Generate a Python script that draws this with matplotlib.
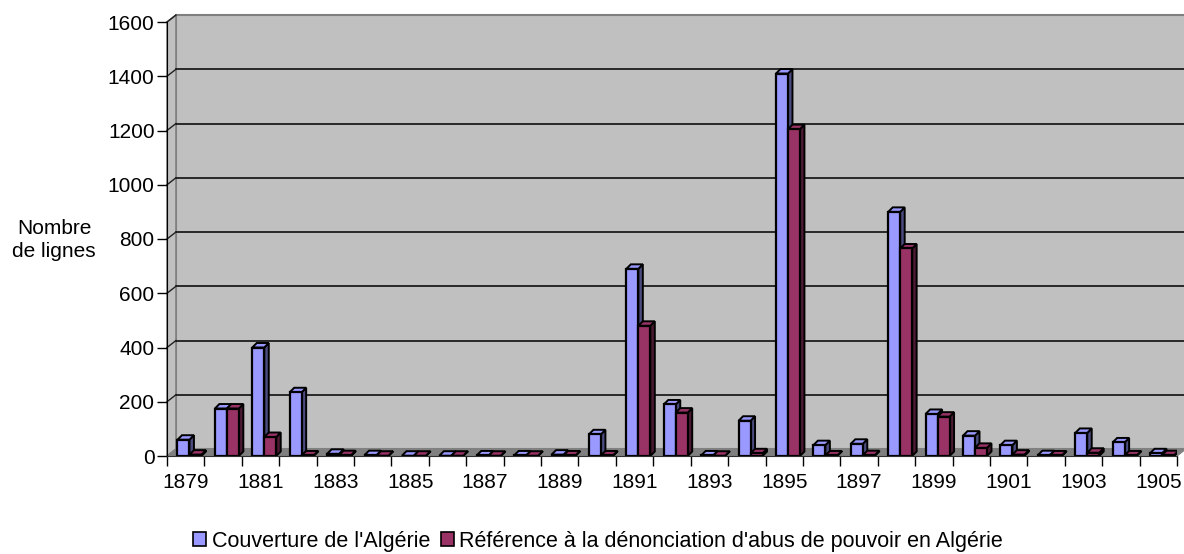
import matplotlib
matplotlib.use("Agg")
import matplotlib.pyplot as plt
from matplotlib.patches import Polygon, Rectangle, Patch

plt.rcParams['font.family'] = ['Liberation Sans', 'DejaVu Sans']

years = list(range(1879, 1906))
couverture = [60, 175, 400, 235, 8, 3, 1, 1, 2, 2, 5, 80, 690, 190, 2, 130,
              1410, 40, 45, 900, 155, 75, 40, 3, 85, 50, 10]
abus = [5, 175, 70, 2, 3, 1, 1, 1, 1, 1, 2, 2, 480, 160, 1, 10,
        1205, 2, 3, 765, 145, 30, 5, 2, 12, 2, 3]
series_names = ["Couverture de l'Algérie",
                "Référence à la dénonciation d'abus de pouvoir en Algérie"]
yticks = [0, 200, 400, 600, 800, 1000, 1200, 1400, 1600]

FS = 15
W, H = 1184, 554
fig = plt.figure(figsize=(W / 100, H / 100), dpi=100)
x_left_px, x_right_px = 167, 1177
y_bot_px, y_top_px = 456, 22
ax = fig.add_axes([x_left_px / W, (H - y_bot_px) / H,
                   (x_right_px - x_left_px) / W, (y_bot_px - y_top_px) / H])
n = len(years)
ax.set_xlim(-0.5, n - 0.5)
ax.set_ylim(0, 1600)
ax.set_facecolor('none')

px_per_x = (x_right_px - x_left_px) / n
px_per_y = (y_bot_px - y_top_px) / 1600.0

# wall depth offset
wdx, wdy = 9 / px_per_x, 7 / px_per_y
x0, x1 = -0.5, n - 0.5
# back wall
ax.add_patch(Rectangle((x0 + wdx, wdy), x1 - x0 + 0.5, 1600, facecolor='#C0C0C0',
                       edgecolor='#808080', lw=1.5, zorder=0, clip_on=False))
# left wall
ax.add_patch(Polygon([(x0, 0), (x0 + wdx, wdy), (x0 + wdx, 1600 + wdy), (x0, 1600)],
                     closed=True, facecolor='#C0C0C0', edgecolor='#808080', lw=1.2,
                     zorder=0.5, clip_on=False))
# floor
ax.add_patch(Polygon([(x0, 0), (x1, 0), (x1 + wdx, wdy), (x0 + wdx, wdy)],
                     closed=True, facecolor='#808080', edgecolor='#808080', lw=0.8,
                     zorder=0.6, clip_on=False))
# gridlines on back wall + diagonal tick connectors
for v in yticks[1:-1]:
    ax.plot([x0 + wdx, x1 + wdx + 0.5], [v + wdy, v + wdy], color='black', lw=1.1,
            zorder=0.7, clip_on=False)
for v in yticks[1:]:
    ax.plot([x0, x0 + wdx], [v, v + wdy], color='#202020', lw=1.0, zorder=0.7,
            clip_on=False)

# bars
bw = 0.32
bdx, bdy = 4.5 / px_per_x, 4.5 / px_per_y
styles = [('#9999FF', '#4C4C80'), ('#993366', '#4C1A33')]
offsets = [0.28, 0.60]
z = 1.0
for i in range(n):
    for s, vals in enumerate([couverture, abus]):
        h = vals[i]
        xl = i - 0.5 + offsets[s]
        front, side = styles[s]
        ax.add_patch(Polygon([(xl + bw, 0), (xl + bw + bdx, bdy), (xl + bw + bdx, h + bdy),
                              (xl + bw, h)], closed=True, facecolor=side,
                             edgecolor='black', lw=1.4, zorder=z))
        ax.add_patch(Polygon([(xl, h), (xl + bw, h), (xl + bw + bdx, h + bdy),
                              (xl + bdx, h + bdy)], closed=True, facecolor=front,
                             edgecolor='black', lw=1.4, zorder=z + 0.01))
        ax.bar([xl], [h], width=bw, align='edge', color=front, edgecolor='black',
               lw=1.6, zorder=z + 0.02)
        z += 0.05

# axes styling
for sp in ['top', 'right']:
    ax.spines[sp].set_visible(False)
ax.spines['left'].set_color('black')
ax.spines['bottom'].set_color('#303030')
ax.spines['left'].set_zorder(50)
ax.spines['bottom'].set_zorder(50)
ax.set_yticks(yticks)
ax.set_yticklabels([str(v) for v in yticks], fontsize=FS)
ax.tick_params(axis='y', length=7, width=1, pad=2)
ax.set_xticks([i - 0.5 for i in range(n + 1)])
ax.set_xticklabels([])
ax.set_xticks(list(range(n)), minor=True)
ax.set_xticklabels([str(y) if (y - 1879) % 2 == 0 else '' for y in years], minor=True,
                   fontsize=FS)
ax.tick_params(axis='x', which='major', length=7, width=1)
ax.tick_params(axis='x', which='minor', length=0, pad=12)

fig.text(54 / W, 1 - 240 / H, "Nombre\nde lignes", ha='center', va='center',
         fontsize=FS, linespacing=1.25)

handles = [Patch(facecolor=styles[0][0], edgecolor='black', lw=1.2),
           Patch(facecolor=styles[1][0], edgecolor='black', lw=1.2)]
fig.legend(handles, series_names, loc='center', bbox_to_anchor=(598 / W, 1 - 541 / H),
           ncol=2, frameon=False, fontsize=FS + 0.5, handlelength=0.6, handleheight=0.6,
           handletextpad=0.25, columnspacing=0.5)

fig.savefig('out.png', dpi=100)
